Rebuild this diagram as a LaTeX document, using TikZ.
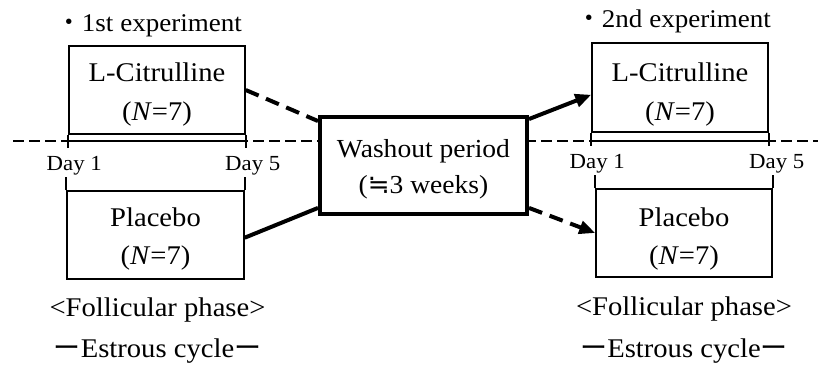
\documentclass[tikz,border=0pt]{standalone}
\usepackage{fontspec}
\setmainfont{Liberation Serif}[FakeStretch=1.06]
\newfontfamily\jp{Noto Sans CJK JP}
\newfontfamily\sym{DejaVu Sans}
\usetikzlibrary{arrows.meta,calc}
\tikzset{
  grp/.style={draw, line width=1.5pt, fill=white, inner sep=0pt,
    minimum width=176pt, minimum height=88pt},
  grptext/.style={inner sep=0pt, align=center, font=\fontsize{27}{39}\selectfont},
  wobox/.style={draw, line width=4pt, fill=white, inner sep=0pt,
    minimum width=207pt, minimum height=97pt},
  wotext/.style={inner sep=0pt, align=center, font=\fontsize{26}{36}\selectfont},
  conn/.style={line width=4pt},
  dconn/.style={line width=4pt, dash pattern=on 14pt off 8pt},
  tipped/.style={-{Triangle[length=16pt,width=13pt]}},
  guide/.style={line width=1.2pt, dash pattern=on 11pt off 5pt},
  timeline/.style={line width=2pt},
  tickmark/.style={line width=2pt},
  day/.style={anchor=base, font=\fontsize{21.5}{21.5}\selectfont, inner sep=0pt},
  lab/.style={anchor=base, font=\fontsize{27}{27}\selectfont, inner sep=0pt},
  hdr/.style={anchor=base west, font=\fontsize{25.5}{25.5}\selectfont, inner sep=0pt},
}
\begin{document}
\begin{tikzpicture}[x=1pt,y=-1pt]
\useasboundingbox (0,0) rectangle (822,365);
\coordinate (gl) at (13,141);
\coordinate (gr) at (818,141);
\draw[guide] (gl) -- (gr);

\node[grp] (lc1) at (157,90) {};
\node[grp, minimum width=177pt] (pl1) at (155.5,235) {};
\node[grp, minimum height=89pt] (lc2) at (680,87.5) {};
\node[grp] (pl2) at (684,233) {};
\node[wobox] (wo) at (423.5,165.5) {};

\node[grptext] (lc1t) at ($(lc1.center)+(0,5)$) {L-Citrulline\\(\textit{N}=7)};
\node[grptext] (pl1t) at ($(pl1.center)+(0,4)$) {Placebo\\(\textit{N}=7)};
\node[grptext] (lc2t) at ($(lc2.center)+(0,7)$) {L-Citrulline\\(\textit{N}=7)};
\node[grptext] (pl2t) at ($(pl2.center)+(0,6)$) {Placebo\\(\textit{N}=7)};
\node[wotext] (wot) at ($(wo.center)+(0,4)$) {Washout period\\({\sym ≒}3 weeks)};

% timelines and ticks
\draw[timeline] ($(lc1.south west)+(0,6.5)$) -- ($(lc1.south east)+(0,6.5)$);
\draw[tickmark] (lc1.south west) -- ++(0,13);
\draw[tickmark] (lc1.south east) -- ++(0,13);
\draw[tickmark] (pl1.north west) -- ++(0,-13);
\draw[tickmark] (pl1.north east) -- ++(0,-13);
\draw[timeline] ($(lc2.south west)+(0,8)$) -- ($(lc2.south east)+(0,8)$);
\draw[tickmark] (lc2.south west) -- ++(0,13);
\draw[tickmark] (lc2.south east) -- ++(0,13);
\draw[tickmark] (pl2.north west) -- ++(0,-13);
\draw[tickmark] (pl2.north east) -- ++(0,-13);

% day labels
\node[day] (d11) at ($(lc1.south west)+(6,36)$) {Day 1};
\node[day] (d15) at ($(lc1.south east)+(7,36)$) {Day 5};
\node[day] (d21) at ($(lc2.south west)+(6,36)$) {Day 1};
\node[day] (d25) at ($(lc2.south east)+(8,36)$) {Day 5};

% headers
\node[hdr] (h1) at ($(lc1.north west)+(-12,-14)$) {{\jp ・}1st experiment};
\node[hdr] (h2) at ($(lc2.north west)+(-15,-15)$) {{\jp ・}2nd experiment};

% bottom labels
\node[lab] (f1) at ($(pl1.south)+(2,37)$) {<Follicular phase>};
\node[lab] (c1) at ($(pl1.south)+(2,78)$) {{\jp ー}Estrous cycle{\jp ー}};
\node[lab] (f2) at ($(pl2.south)+(0,38)$) {<Follicular phase>};
\node[lab] (c2) at ($(pl2.south)+(0,80)$) {{\jp ー}Estrous cycle{\jp ー}};

% connectors
\draw[dconn] (lc1.east) -- ($(wo.north west)!0.06!(wo.south west)$);
\draw[conn] ($(pl1.north east)!0.53!(pl1.south east)$) -- ($(wo.north west)!0.92!(wo.south west)$);
\draw[conn,tipped] ($(wo.north east)!0.04!(wo.south east)$) -- ($(lc2.north west)!0.58!(lc2.south west)$);
\draw[dconn,tipped] ($(wo.north east)!0.92!(wo.south east)$) -- (pl2.west);
\end{tikzpicture}
\end{document}
